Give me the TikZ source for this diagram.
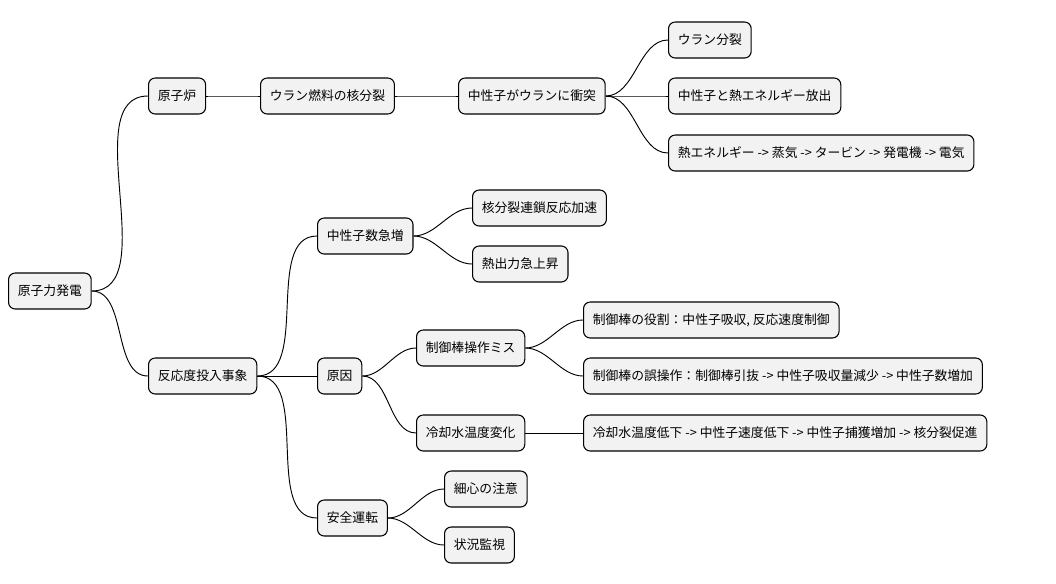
\documentclass[tikz,border=0pt]{standalone}
\usepackage{fontspec}
\setmainfont{Noto Sans CJK JP}
\begin{document}
\begin{tikzpicture}[x=0.75pt,y=-0.75pt,
  box/.style={draw=black,fill=black!5!white,rounded corners=5pt,line width=0.8pt,anchor=west,minimum height=27pt,inner xsep=7pt,font=\fontsize{9.6}{11}\selectfont},
  link/.style={line width=0.7pt,out=0,in=180,looseness=0.9}]
\useasboundingbox (0,0) rectangle (1056,583);
\node[box] (r) at (8,291) {原子力発電};
\node[box] (a) at (148,96) {原子炉};
\node[box] (a1) at (260,96) {ウラン燃料の核分裂};
\node[box] (a2) at (458,96) {中性子がウランに衝突};
\node[box] (a3) at (668,40) {ウラン分裂};
\node[box] (a4) at (668,96) {中性子と熱エネルギー放出};
\node[box] (a5) at (668,153) {熱エネルギー -> 蒸気 -> タービン -> 発電機 -> 電気};
\node[box] (b) at (148,376) {反応度投入事象};
\node[box] (b1) at (317,236) {中性子数急増};
\node[box] (b11) at (472,208) {核分裂連鎖反応加速};
\node[box] (b12) at (472,264) {熱出力急上昇};
\node[box] (b2) at (317,376) {原因};
\node[box] (b21) at (416,348) {制御棒操作ミス};
\node[box] (b211) at (583,320) {制御棒の役割：中性子吸収, 反応速度制御};
\node[box] (b212) at (583,376) {制御棒の誤操作：制御棒引抜 -> 中性子吸収量減少 -> 中性子数増加};
\node[box] (b22) at (416,433) {冷却水温度変化};
\node[box] (b221) at (583,433) {冷却水温度低下 -> 中性子速度低下 -> 中性子捕獲増加 -> 核分裂促進};
\node[box] (b3) at (317,518) {安全運転};
\node[box] (b31) at (444,489) {細心の注意};
\node[box] (b32) at (444,545) {状況監視};
\foreach \p/\c in {r/a,a/a1,a1/a2,a2/a3,a2/a4,a2/a5,r/b,b/b1,b1/b11,b1/b12,b/b2,b2/b21,b21/b211,b21/b212,b2/b22,b22/b221,b/b3,b3/b31,b3/b32}
  \draw[link] (\p.east) to (\c.west);
\end{tikzpicture}
\end{document}
